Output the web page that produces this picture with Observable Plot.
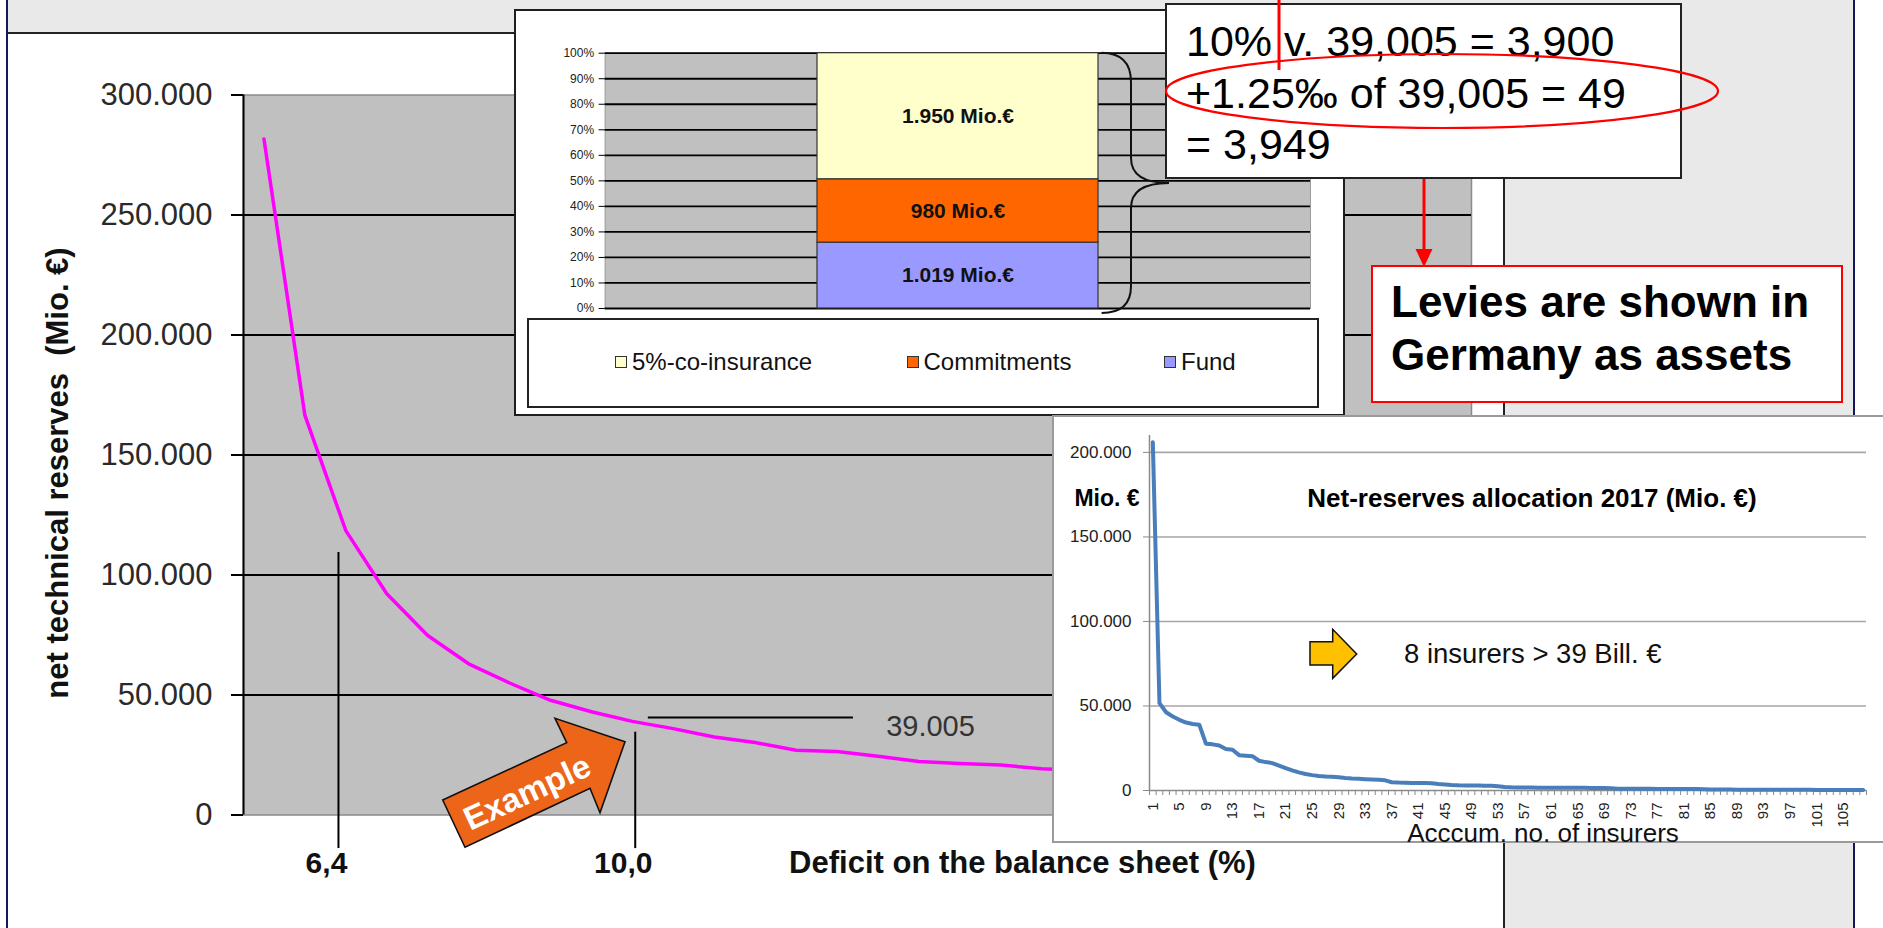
<!DOCTYPE html>
<html>
<head>
<meta charset="utf-8">
<script src="https://cdn.jsdelivr.net/npm/d3@7"></script>
<script src="https://cdn.jsdelivr.net/npm/@observablehq/plot@0.6"></script>
<style>
  html, body { margin: 0; padding: 0; }
  body { width: 1883px; height: 928px; position: relative; overflow: hidden; background: #fff;
         font-family: "Liberation Sans", Arial, Helvetica, sans-serif; }
  .abs { position: absolute; }
  svg { max-width: none !important; }
</style>
</head>
<body>
<div class="abs" style="left:8px;top:0;width:1845px;height:928px;background:#e9e9e9"></div>
<div class="abs" style="left:8px;top:32px;width:1497px;height:896px;background:#fff;border-top:2px solid #222;border-right:2px solid #222;box-sizing:border-box"></div>
<div class="abs" style="left:6px;top:0;width:2px;height:928px;background:#16165c"></div>
<div class="abs" style="left:1853px;top:0;width:2px;height:928px;background:#16165c"></div>

<div id="main" class="abs" style="left:0;top:0"></div>

<div id="stackBox" class="abs" style="left:514px;top:9px;width:831px;height:407px;background:#fff;border:2px solid #1e1e1e;box-sizing:border-box">
  <div id="stackPlot" class="abs" style="left:0;top:0"></div>
  <div id="stackLegend" class="abs" style="left:11px;top:307px;width:792px;height:90px;border:2px solid #222;background:#fff;box-sizing:border-box"></div>
</div>

<div id="allocBox" class="abs" style="left:1052px;top:415px;width:840px;height:428px;background:#fff;border:2px solid #9a9a9a;box-sizing:border-box;overflow:hidden">
  <div id="allocPlot" class="abs" style="left:0;top:0"></div>
</div>

<svg id="overlay" class="abs" style="left:0;top:0" width="1883" height="928"></svg>

<script>
const FONT = "Liberation Sans, Arial, Helvetica, sans-serif";
const deFmt = d => d3.format(",")(d).replace(/,/g, ".");

// ---------------- Main chart data ----------------
const deficitRank = [1, 2, 3, 4, 5, 6, 7, 8, 9, 10, 11, 12, 13, 14, 15, 16, 17, 18, 19, 20, 21];
const netReserves = [281700, 166500, 118500, 92200, 74800, 63000, 55000, 47800, 43000, 39005, 36000,
                     32500, 30200, 27000, 26500, 24500, 22300, 21500, 20800, 19300, 18500];
const yTicks = [0, 50000, 100000, 150000, 200000, 250000, 300000];
const markerLabels = ["6,4", "10,0"];
const markerRank = [2.82, 10.07];
const markerTop = [109400, 34500];
const markerBottom = -14000;
const exampleLabel = "39.005";
const exampleLineValue = 40600;
const exampleLineRank = [10.39, 15.4];
const exampleLabelAt = [16.2, 36900];
const xTitle = "Deficit on the balance sheet (%)";
const yTitle = "net technical reserves\u00a0 (Mio. €)";

// ---------------- Stacked inset data ----------------
const fundParts = ["5%-co-insurance", "Commitments", "Fund"];
const fundAmounts = [1950, 980, 1019];
const fundColors = ["#ffffcc", "#ff6600", "#9999ff"];
const stackOrder = ["Fund", "Commitments", "5%-co-insurance"];
const pctTicks = [0, 0.1, 0.2, 0.3, 0.4, 0.5, 0.6, 0.7, 0.8, 0.9, 1];

// ---------------- Allocation inset data ----------------
const allocReserves = [206000, 51700, 46300, 43800, 41800, 40200, 39300, 38900, 27700, 27300,
  26600, 24500, 24100, 20900, 20600, 20300, 17600, 16800, 16200, 14700,
  13300, 11900, 10700, 9800, 9100, 8600, 8300, 8200, 7900, 7400,
  7100, 6900, 6700, 6500, 6300, 6000, 4900, 4700, 4600, 4500,
  4500, 4400, 4300, 3900, 3600, 3300, 3100, 3000, 2900, 2900,
  2800, 2800, 2500, 2100, 1900, 1800, 1800, 1800, 1700, 1700,
  1700, 1700, 1600, 1600, 1600, 1600, 1500, 1500, 1500, 1400,
  1100, 1100, 1000, 1000, 1000, 1000, 950, 950, 900, 900,
  900, 850, 850, 800, 600, 600, 550, 550, 500, 500,
  500, 480, 470, 450, 440, 430, 420, 400, 390, 380,
  370, 360, 350, 340, 330, 320, 310, 300];
const allocTicks = [0, 50000, 100000, 150000, 200000];
const allocLabelEvery = 4;

// ================= Main chart =================
const mainRows = deficitRank.map((r, i) => ({r, v: netReserves[i]}));
const markers = markerLabels.map((label, i) => ({label, r: markerRank[i], top: markerTop[i]}));

const main = Plot.plot({
  width: 1883, height: 928,
  marginLeft: 243, marginRight: 412, marginTop: 94.5, marginBottom: 113.5,
  style: {background: "none", fontFamily: FONT, maxWidth: "none", overflow: "visible"},
  x: {domain: [0.5, 30.5], axis: null},
  y: {domain: [0, 300000], axis: null},
  marks: [
    Plot.frame({fill: "#c0c0c0", stroke: "#8a8a8a", strokeWidth: 1.5}),
    Plot.ruleY(yTicks.slice(1, -1), {stroke: "#000", strokeWidth: 2}),
    Plot.ruleX([0.5], {stroke: "#000", strokeWidth: 2}),
    Plot.axisY({ticks: yTicks, tickFormat: deFmt, tickSize: 12, tickPadding: 19, fontSize: 31,
                stroke: "#000", strokeWidth: 2, fill: "#2a2a2a", label: null}),
    Plot.lineY(mainRows, {x: "r", y: "v", stroke: "#ff00ff", strokeWidth: 3.5}),
    Plot.ruleX(markers, {x: "r", y1: "top", y2: markerBottom, stroke: "#000", strokeWidth: 2}),
    Plot.text(markers, {x: "r", text: "label", frameAnchor: "bottom", dx: -12, dy: 58,
                        fontSize: 30, fontWeight: "bold", fill: "#111"}),
    Plot.ruleY([exampleLineValue], {x1: exampleLineRank[0], x2: exampleLineRank[1], stroke: "#000", strokeWidth: 2}),
    Plot.text([exampleLabel], {x: exampleLabelAt[0], y: exampleLabelAt[1], textAnchor: "start",
                               fontSize: 29, fill: "#333"}),
    Plot.text([xTitle], {frameAnchor: "bottom", textAnchor: "middle", dx: 165, dy: 58, fontSize: 31,
                         fontWeight: "bold", fill: "#111"}),
    Plot.text([yTitle], {frameAnchor: "left", textAnchor: "middle", dx: -185, dy: 18, rotate: -90,
                         fontSize: 31, fontWeight: "bold", fill: "#111"})
  ]
});
document.getElementById("main").appendChild(main);

// ================= Stacked inset =================
const total = d3.sum(fundAmounts);
let acc = 0;
const stackRows = stackOrder.map(name => {
  const i = fundParts.indexOf(name);
  const y1 = acc / total;
  acc += fundAmounts[i];
  return {name, value: fundAmounts[i], color: fundColors[i], y1, y2: acc / total};
});

const stackPlot = Plot.plot({
  width: 827, height: 305,
  marginLeft: 88.6, marginRight: 33, marginTop: 41.7, marginBottom: 8,
  style: {background: "none", fontFamily: FONT, maxWidth: "none", overflow: "visible"},
  x: {domain: ["total"], padding: 0.43, axis: null},
  y: {domain: [0, 1], axis: null},
  color: {type: "identity"},
  marks: [
    Plot.frame({fill: "#c0c0c0", stroke: "#9a9a9a"}),
    Plot.ruleY(pctTicks, {stroke: "#000", strokeWidth: 1.8}),
    Plot.axisY({ticks: pctTicks, tickFormat: d3.format(".0%"), tickSize: 6, tickPadding: 5,
                fontSize: 12, stroke: "#000", fill: "#222", label: null}),
    Plot.barY(stackRows, {x: () => "total", y1: "y1", y2: "y2", fill: "color", stroke: "#333", strokeWidth: 1.2}),
    Plot.text(stackRows, {x: () => "total", y: d => (d.y1 + d.y2) / 2,
                          text: d => deFmt(d.value) + " Mio.€", fontSize: 21, fontWeight: "bold", fill: "#111"})
  ]
});
document.getElementById("stackPlot").appendChild(stackPlot);

// legend
const legendPos = [86, 377.5, 635];
const legend = d3.select("#stackLegend");
fundParts.forEach((name, i) => {
  const item = legend.append("div")
    .style("position", "absolute").style("left", legendPos[i] + "px").style("top", "42px")
    .style("transform", "translateY(-50%)").style("display", "flex").style("align-items", "center")
    .style("font-size", "24px").style("color", "#111").style("white-space", "nowrap");
  item.append("div").style("width", "12px").style("height", "12px")
    .style("background", fundColors[i]).style("border", "1.5px solid #333").style("margin-right", "5px")
    .style("box-sizing", "border-box");
  item.append("span").text(name);
});

// ================= Allocation inset =================
const allocRows = allocReserves.map((v, i) => ({rank: i + 1, v}));
const allocPlot = Plot.plot({
  width: 836, height: 424,
  marginLeft: 95, marginRight: 24, marginTop: 18, marginBottom: 51,
  style: {background: "none", fontFamily: FONT, maxWidth: "none", overflow: "visible"},
  x: {domain: [0.5, allocReserves.length + 0.5], axis: null},
  y: {domain: [0, 210000], axis: null},
  marks: [
    Plot.ruleY(allocTicks.slice(1), {stroke: "#a6a6a6", strokeWidth: 1.6}),
    Plot.axisY({ticks: allocTicks, tickFormat: deFmt, tickSize: 6, tickPadding: 12, fontSize: 17,
                stroke: "#8a8a8a", fill: "#222", label: null}),
    Plot.ruleX([0.5], {stroke: "#8a8a8a", strokeWidth: 1.5}),
    Plot.ruleY([0], {stroke: "#8a8a8a", strokeWidth: 1.5}),
    Plot.axisX({ticks: d3.range(0.5, allocReserves.length + 1, 1), tickFormat: () => "", tickSize: 5,
                stroke: "#8a8a8a", label: null}),
    Plot.axisX({ticks: allocRows.filter(d => (d.rank - 1) % allocLabelEvery === 0).map(d => d.rank),
                tickSize: 0, tickPadding: 12, tickRotate: -90, fontSize: 15, fill: "#222", label: null}),
    Plot.lineY(allocRows, {x: "rank", y: "v", stroke: "#4a7ebb", strokeWidth: 4})
  ]
});
document.getElementById("allocPlot").appendChild(allocPlot);

// ================= Overlay annotations =================
const ov = d3.select("#overlay").style("font-family", FONT);

// brace next to the stacked bar
ov.append("path")
  .attr("d", "M1101.6,52.7 Q1131,53 1131,82 L1131,158 Q1131,183 1169,183 Q1131,183 1131,208 L1131,286 Q1131,313 1101.6,313")
  .attr("fill", "none").attr("stroke", "#111").attr("stroke-width", 2);

// callout box
ov.append("rect").attr("x", 1166).attr("y", 4).attr("width", 515).attr("height", 174)
  .attr("fill", "#fff").attr("stroke", "#222").attr("stroke-width", 2);
const calloutLines = ["10% v. 39,005 = 3,900", "+1.25‰ of 39,005 = 49", "= 3,949"];
const calloutBase = [56, 108, 159];
calloutLines.forEach((t, i) => {
  ov.append("text").attr("x", 1186).attr("y", calloutBase[i]).attr("font-size", 43)
    .attr("fill", "#000").text(t);
});
// red vertical line
ov.append("line").attr("x1", 1279).attr("x2", 1279).attr("y1", 0).attr("y2", 70)
  .attr("stroke", "#ff0000").attr("stroke-width", 3);
// red ellipse
ov.append("ellipse").attr("cx", 1442).attr("cy", 91).attr("rx", 276).attr("ry", 37)
  .attr("fill", "none").attr("stroke", "#ff0000").attr("stroke-width", 2.2);
// red arrow down
ov.append("line").attr("x1", 1424).attr("x2", 1424).attr("y1", 179).attr("y2", 250)
  .attr("stroke", "#ff0000").attr("stroke-width", 3);
ov.append("path").attr("d", "M1415.5,249 L1432.5,249 L1424,267 Z").attr("fill", "#ff0000");

// Levies box
ov.append("rect").attr("x", 1372).attr("y", 266).attr("width", 470).attr("height", 136)
  .attr("fill", "#fff").attr("stroke", "#ff0000").attr("stroke-width", 2);
["Levies are shown in", "Germany as assets"].forEach((t, i) => {
  ov.append("text").attr("x", 1391).attr("y", [317, 370][i]).attr("font-size", 44)
    .attr("font-weight", "bold").attr("fill", "#000").text(t);
});

// Example arrow
ov.append("path")
  .attr("d", "M442.7,800 L566.7,742.7 L555,718.3 L625,741.7 L600,812.7 L590,788.3 L465,847.3 Z")
  .attr("fill", "#ec6519").attr("stroke", "#111").attr("stroke-width", 1.6).attr("stroke-linejoin", "miter");
ov.append("text").attr("transform", "translate(527,792) rotate(-24.8)")
  .attr("text-anchor", "middle").attr("dominant-baseline", "central")
  .attr("font-size", 33).attr("font-weight", "bold").attr("fill", "#fff").text("Example");

// Allocation inset texts
ov.append("text").attr("x", 1107).attr("y", 506).attr("text-anchor", "middle")
  .attr("font-size", 23).attr("font-weight", "bold").attr("fill", "#000").text("Mio. €");
ov.append("text").attr("x", 1532).attr("y", 507).attr("text-anchor", "middle")
  .attr("font-size", 26).attr("font-weight", "bold").attr("fill", "#000").text("Net-reserves allocation 2017 (Mio. €)");
ov.append("path")
  .attr("d", "M1310,641.7 L1332.7,641.7 L1332.7,629.3 L1356.7,654 L1332.7,678.3 L1332.7,665 L1310,665 Z")
  .attr("fill", "#ffc000").attr("stroke", "#111").attr("stroke-width", 1.5);
ov.append("text").attr("x", 1404).attr("y", 663).attr("font-size", 27.5).attr("fill", "#111")
  .text("8 insurers > 39 Bill. €");
ov.append("text").attr("x", 1543).attr("y", 842).attr("text-anchor", "middle").attr("font-size", 26)
  .attr("fill", "#111").text("Acccum. no. of insurers");
</script>
</body>
</html>
